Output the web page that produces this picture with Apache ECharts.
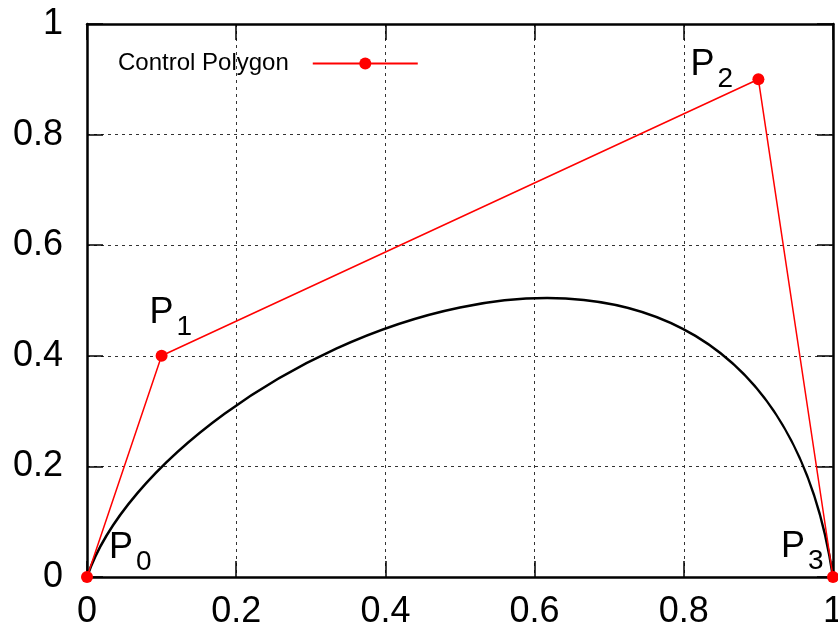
<!DOCTYPE html>
<html>
<head>
<meta charset="utf-8">
<script src="https://cdn.jsdelivr.net/npm/echarts@6/dist/echarts.min.js"></script>
<style>html,body{margin:0;padding:0;background:#fff;}#c{width:838px;height:631px;}</style>
</head>
<body>
<div id="c"></div>
<script>
// Control points of the cubic Bezier (also the control polygon)
const ctrlX = [0, 0.1, 0.9, 1];
const ctrlY = [0, 0.4, 0.9, 0];
const ctrlNames = ['0', '1', '2', '3'];
const xTicks = [0, 0.2, 0.4, 0.6, 0.8, 1];
const yTicks = [0, 0.2, 0.4, 0.6, 0.8, 1];
const legendName = 'Control Polygon';

const FONT = '"Liberation Sans", Arial, Helvetica, sans-serif';
const labelPos = [[28, -41], [-6, -55], [-62, -26], [-46, -42]];

const polyData = ctrlX.map((x, i) => ({
  value: [x, ctrlY[i]],
  label: {
    show: true,
    position: labelPos[i],
    align: 'left',
    verticalAlign: 'top',
    formatter: '{p|P}{s|' + ctrlNames[i] + '}',
    rich: {
      p: { fontSize: 36, lineHeight: 36, fontFamily: FONT, color: '#000', verticalAlign: 'top' },
      s: { fontSize: 28, lineHeight: 28, fontFamily: FONT, color: '#000', verticalAlign: 'top', padding: [18, 0, 0, 3] }
    }
  }
}));

const chart = echarts.init(document.getElementById('c'), null, { renderer: 'canvas' });

const axisCommon = {
  type: 'value', min: 0, max: 1, interval: 0.2,
  axisLine: { show: true, onZero: false, lineStyle: { color: '#000', width: 2.5 } },
  axisTick: { show: true, inside: true, length: 16, lineStyle: { color: '#000', width: 1.5 } }
};

chart.setOption({
  animation: false,
  backgroundColor: '#fff',
  grid: { left: 87, right: 5, top: 24, bottom: 54, show: false, containLabel: false, outerBoundsMode: 'none' },
  legend: {
    show: true,
    data: [legendName],
    left: 118, top: 51.5, padding: 0,
    align: 'right',
    itemWidth: 105, itemHeight: 15,
    selectedMode: false,
    formatter: '{a|{name}}',
    textStyle: {
      rich: { a: { fontSize: 24, fontFamily: FONT, color: '#000', padding: [0, 19, 0, 0] } }
    }
  },
  xAxis: [
    Object.assign({}, axisCommon, {
      position: 'bottom',
      axisLabel: { show: true, margin: 17, fontSize: 36, fontFamily: FONT, color: '#000',
        formatter: v => String(xTicks.find(t => Math.abs(t - v) < 1e-9) ?? v) },
      splitLine: { show: true, lineStyle: { color: '#333', width: 1, type: [3, 4] } }
    }),
    Object.assign({}, axisCommon, {
      position: 'top', axisLabel: { show: false }, splitLine: { show: false }
    })
  ],
  yAxis: [
    Object.assign({}, axisCommon, {
      position: 'left',
      axisLabel: { show: true, margin: 24, fontSize: 36, fontFamily: FONT, color: '#000',
        formatter: v => String(yTicks.find(t => Math.abs(t - v) < 1e-9) ?? v) },
      splitLine: { show: true, lineStyle: { color: '#333', width: 1, type: [3, 4] } }
    }),
    Object.assign({}, axisCommon, {
      position: 'right', axisLabel: { show: false }, splitLine: { show: false }
    })
  ],
  series: [
    {
      type: 'custom',
      name: 'curve',
      xAxisIndex: 0, yAxisIndex: 0,
      clip: false,
      z: 3,
      data: [[ctrlX[0], ctrlY[0]]],
      renderItem: function (params, api) {
        const p = ctrlX.map((x, i) => api.coord([x, ctrlY[i]]));
        return {
          type: 'bezierCurve',
          shape: {
            x1: p[0][0], y1: p[0][1],
            cpx1: p[1][0], cpy1: p[1][1],
            cpx2: p[2][0], cpy2: p[2][1],
            x2: p[3][0], y2: p[3][1]
          },
          style: { stroke: '#000', lineWidth: 2.5, fill: null }
        };
      }
    },
    {
      type: 'line',
      name: legendName,
      xAxisIndex: 0, yAxisIndex: 0,
      clip: false,
      z: 4,
      data: polyData,
      symbol: 'circle',
      symbolSize: 12,
      showAllSymbol: true,
      lineStyle: { color: '#ff0000', width: 1.5 },
      itemStyle: { color: '#ff0000' },
      emphasis: { disabled: true }
    }
  ]
});
</script>
</body>
</html>
